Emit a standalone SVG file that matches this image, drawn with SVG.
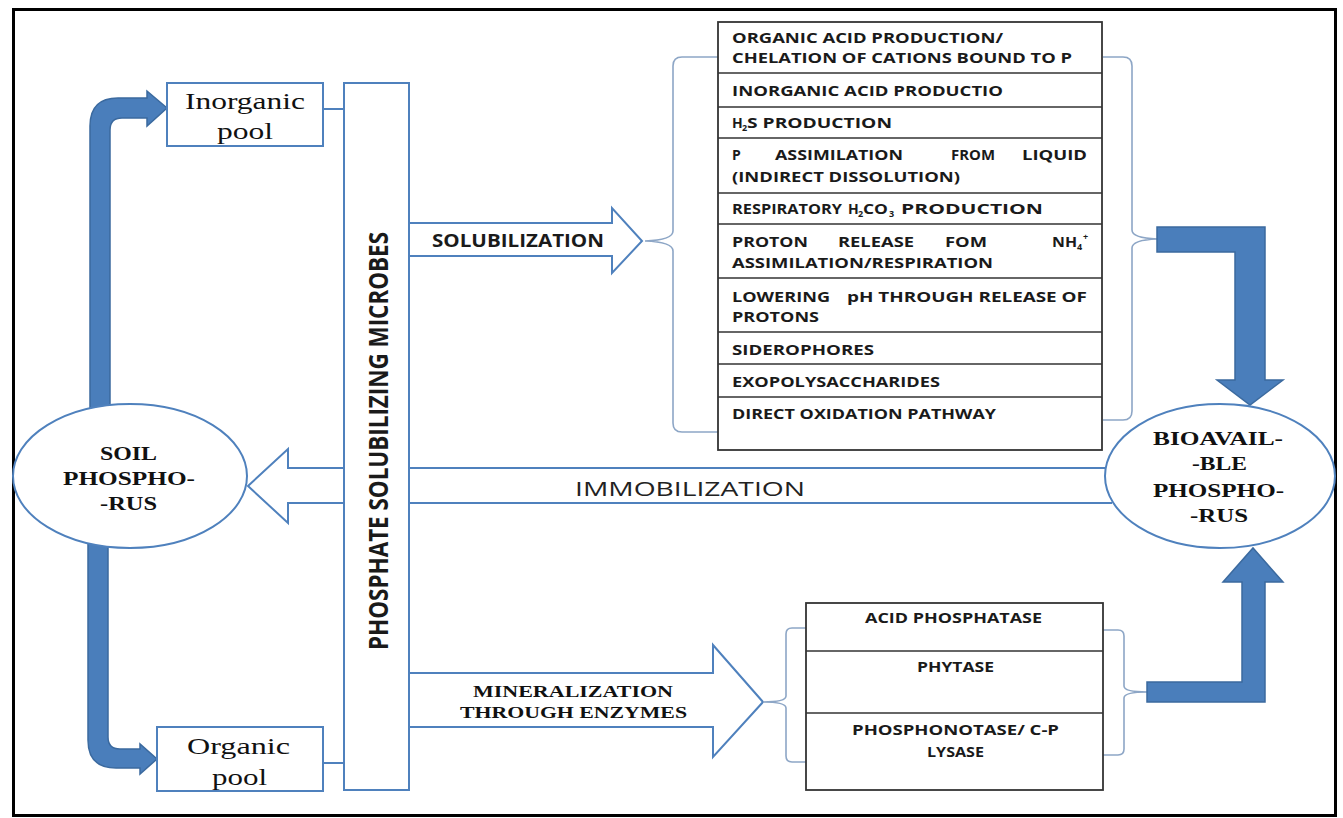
<svg xmlns="http://www.w3.org/2000/svg" width="1343" height="818" viewBox="0 0 1343 818">
<style>
.ol{fill:#fff;stroke:#4F81BD;stroke-width:2}
.thick{fill:#4A7EBB;stroke:#3B6A9F;stroke-width:1.5}
.brace{fill:none;stroke:#8DA6C6;stroke-width:1.6}
.tbl{fill:#fff;stroke:#333;stroke-width:1.8}
.rule{stroke:#333;stroke-width:1.6}
.serif{font-family:"Liberation Serif","Times New Roman",serif;fill:#111}
.sb{font-family:"Open Sans","Liberation Sans",Arial,sans-serif;font-weight:700;fill:#1a1a1a}
.tt{font-family:"Open Sans","Liberation Sans",Arial,sans-serif;font-weight:700;font-size:14px;fill:#1a1a1a}
.sub{font-family:"Open Sans","Liberation Sans",Arial,sans-serif;font-weight:700;font-size:9px;fill:#1a1a1a}
</style>
<rect x="0" y="0" width="1343" height="818" fill="#fff"/>
<rect x="13.5" y="9.5" width="1322" height="806" fill="none" stroke="#000" stroke-width="3"/>

<g id="connectors">
  <path class="thick" d="M90,420 L90,126 Q90,98 118,98 L147,98 L147,91 L167,108 L147,126 L147,118 L122,118 Q110,118 110,130 L110,420 Z"/>
  <path class="thick" d="M88,535 L88,740 Q88,768 116,768 L140,768 L140,774 L157,759 L140,744 L140,749 L120,749 Q108,749 108,737 L108,535 Z"/>
  <path class="ol" d="M1112,468 L288,468 L288,449 L248,486 L288,523 L288,503 L1112,503"/>
  <path class="ol" d="M409,223 L612,223 L612,208 L642,241 L612,273 L612,256 L409,256"/>
  <path class="ol" d="M409,673 L713,673 L713,645 L763,702 L713,757 L713,727 L409,727"/>
  <line x1="323" y1="109" x2="344" y2="109" stroke="#4F81BD" stroke-width="2"/>
  <line x1="323" y1="763" x2="344" y2="763" stroke="#4F81BD" stroke-width="2"/>
  <path class="brace" d="M718,57 L682,57 Q673,57 673,66 L673,231 Q673,240 645,241 Q673,242 673,251 L673,423 Q673,432 682,432 L718,432"/>
  <path class="brace" d="M1103,57 L1123,57 Q1132,57 1132,66 L1132,230 Q1132,238 1157,239 Q1132,240 1132,248 L1132,411 Q1132,420 1123,420 L1103,420"/>
  <path class="brace" d="M806,628 L792,628 Q786,628 786,634 L786,696 Q786,702 763,702 Q786,702 786,708 L786,756 Q786,762 792,762 L806,762"/>
  <path class="brace" d="M1103,630 L1118,630 Q1124,630 1124,636 L1124,686 Q1124,692 1147,692 Q1124,692 1124,698 L1124,749 Q1124,755 1118,755 L1103,755"/>
  <path class="thick" d="M1157,227 L1265,227 L1265,380 L1283,380 L1250,405 L1217,380 L1235,380 L1235,252 L1157,252 Z"/>
  <path class="thick" d="M1147,702 L1265,702 L1265,582 L1283,582 L1253,548 L1223,582 L1242,582 L1242,682 L1147,682 Z"/>
  <text class="sb" x="432" y="247" font-size="17" textLength="172" lengthAdjust="spacingAndGlyphs">SOLUBILIZATION</text>
  <text x="575" y="496" font-family="'Open Sans','Liberation Sans',Arial,sans-serif" font-size="20" fill="#222" textLength="230" lengthAdjust="spacingAndGlyphs">IMMOBILIZATION</text>
  <text class="serif" x="473" y="697" font-size="16" font-weight="700" textLength="200" lengthAdjust="spacingAndGlyphs">MINERALIZATION</text>
  <text class="serif" x="460" y="718" font-size="16" font-weight="700" textLength="227" lengthAdjust="spacingAndGlyphs">THROUGH ENZYMES</text>
</g>

<g id="psm">
  <rect class="ol" x="344" y="83" width="65" height="707"/>
  <text class="sb" transform="translate(388,441) rotate(-90) scale(1,1.3)" x="-209" y="0" font-size="21" textLength="418" lengthAdjust="spacingAndGlyphs">PHOSPHATE  SOLUBILIZING MICROBES</text>
</g>

<g id="inorganic-pool">
  <rect class="ol" x="167" y="83" width="156" height="63"/>
  <text class="serif" x="185" y="109" font-size="24" textLength="120" lengthAdjust="spacingAndGlyphs">Inorganic</text>
  <text class="serif" x="217" y="139" font-size="24" textLength="56" lengthAdjust="spacingAndGlyphs">pool</text>
</g>

<g id="organic-pool">
  <rect class="ol" x="157" y="727" width="166" height="64"/>
  <text class="serif" x="187" y="754" font-size="24" textLength="103" lengthAdjust="spacingAndGlyphs">Organic</text>
  <text class="serif" x="212" y="785" font-size="24" textLength="55" lengthAdjust="spacingAndGlyphs">pool</text>
</g>

<g id="soil-phosphorus">
  <ellipse class="ol" cx="130" cy="476" rx="117" ry="72"/>
  <text class="serif" x="100" y="460" font-size="18" font-weight="700" textLength="57" lengthAdjust="spacingAndGlyphs">SOIL</text>
  <text class="serif" x="63" y="485" font-size="18" font-weight="700" textLength="132" lengthAdjust="spacingAndGlyphs">PHOSPHO-</text>
  <text class="serif" x="100" y="510" font-size="18" font-weight="700" textLength="57" lengthAdjust="spacingAndGlyphs">-RUS</text>
</g>

<g id="bioavailable-phosphorus">
  <ellipse class="ol" cx="1220" cy="476" rx="115" ry="72"/>
  <text class="serif" x="1153" y="445" font-size="18" font-weight="700" textLength="130" lengthAdjust="spacingAndGlyphs">BIOAVAIL-</text>
  <text class="serif" x="1192" y="470" font-size="18" font-weight="700" textLength="55" lengthAdjust="spacingAndGlyphs">-BLE</text>
  <text class="serif" x="1153" y="497" font-size="18" font-weight="700" textLength="131" lengthAdjust="spacingAndGlyphs">PHOSPHO-</text>
  <text class="serif" x="1190" y="522" font-size="18" font-weight="700" textLength="58" lengthAdjust="spacingAndGlyphs">-RUS</text>
</g>

<g id="solubilization-mechanisms">
  <rect class="tbl" x="718" y="22" width="384" height="428"/>
  <line class="rule" x1="718" y1="73" x2="1102" y2="73"/>
  <line class="rule" x1="718" y1="107" x2="1102" y2="107"/>
  <line class="rule" x1="718" y1="138" x2="1102" y2="138"/>
  <line class="rule" x1="718" y1="193" x2="1102" y2="193"/>
  <line class="rule" x1="718" y1="224" x2="1102" y2="224"/>
  <line class="rule" x1="718" y1="278" x2="1102" y2="278"/>
  <line class="rule" x1="718" y1="332" x2="1102" y2="332"/>
  <line class="rule" x1="718" y1="364" x2="1102" y2="364"/>
  <line class="rule" x1="718" y1="397" x2="1102" y2="397"/>
  <text class="tt" x="732" y="43" textLength="271" lengthAdjust="spacingAndGlyphs">ORGANIC ACID PRODUCTION/</text>
  <text class="tt" x="732" y="63" textLength="340" lengthAdjust="spacingAndGlyphs">CHELATION OF CATIONS BOUND TO P</text>
  <text class="tt" x="732" y="96" textLength="271" lengthAdjust="spacingAndGlyphs">INORGANIC ACID PRODUCTIO</text>
  <text class="tt" x="732" y="128">H</text><text class="sub" x="742" y="131">2</text>
  <text class="tt" x="747" y="128" textLength="145" lengthAdjust="spacingAndGlyphs">S PRODUCTION</text>
  <text class="tt" x="732" y="160">P</text>
  <text class="tt" x="775" y="160" textLength="128" lengthAdjust="spacingAndGlyphs">ASSIMILATION</text>
  <text class="tt" x="951" y="160" textLength="44" lengthAdjust="spacingAndGlyphs">FROM</text>
  <text class="tt" x="1022" y="160" textLength="65" lengthAdjust="spacingAndGlyphs">LIQUID</text>
  <text class="tt" x="732" y="182" textLength="228" lengthAdjust="spacingAndGlyphs">(INDIRECT DISSOLUTION)</text>
  <text class="tt" x="732" y="214" textLength="110" lengthAdjust="spacingAndGlyphs">RESPIRATORY</text>
  <text class="tt" x="848" y="214">H</text><text class="sub" x="858" y="217">2</text>
  <text class="tt" x="863" y="214" textLength="25" lengthAdjust="spacingAndGlyphs">CO</text><text class="sub" x="889" y="217">3</text>
  <text class="tt" x="901" y="214" textLength="142" lengthAdjust="spacingAndGlyphs">PRODUCTION</text>
  <text class="tt" x="732" y="247" textLength="76" lengthAdjust="spacingAndGlyphs">PROTON</text>
  <text class="tt" x="838" y="247" textLength="76" lengthAdjust="spacingAndGlyphs">RELEASE</text>
  <text class="tt" x="945" y="247" textLength="42" lengthAdjust="spacingAndGlyphs">FOM</text>
  <text class="tt" x="1052" y="247" textLength="25" lengthAdjust="spacingAndGlyphs">NH</text>
  <text class="sub" x="1077" y="250">4</text><text class="sub" x="1083" y="240">+</text>
  <text class="tt" x="732" y="268" textLength="261" lengthAdjust="spacingAndGlyphs">ASSIMILATION/RESPIRATION</text>
  <text class="tt" x="732" y="302" textLength="98" lengthAdjust="spacingAndGlyphs">LOWERING</text>
  <text class="tt" x="847" y="302" textLength="240" lengthAdjust="spacingAndGlyphs">pH THROUGH RELEASE OF</text>
  <text class="tt" x="732" y="322" textLength="87" lengthAdjust="spacingAndGlyphs">PROTONS</text>
  <text class="tt" x="732" y="355" textLength="142" lengthAdjust="spacingAndGlyphs">SIDEROPHORES</text>
  <text class="tt" x="732" y="387" textLength="208" lengthAdjust="spacingAndGlyphs">EXOPOLYSACCHARIDES</text>
  <text class="tt" x="732" y="419" textLength="264" lengthAdjust="spacingAndGlyphs">DIRECT OXIDATION PATHWAY</text>
</g>

<g id="enzymes">
  <rect class="tbl" x="806" y="603" width="297" height="187" stroke="#222"/>
  <line class="rule" x1="806" y1="651" x2="1103" y2="651"/>
  <line class="rule" x1="806" y1="713" x2="1103" y2="713"/>
  <text class="tt" x="865" y="623" textLength="177" lengthAdjust="spacingAndGlyphs">ACID PHOSPHATASE</text>
  <text class="tt" x="917" y="672" textLength="77" lengthAdjust="spacingAndGlyphs">PHYTASE</text>
  <text class="tt" x="852" y="735" textLength="207" lengthAdjust="spacingAndGlyphs">PHOSPHONOTASE/ C-P</text>
  <text class="tt" x="927" y="757" textLength="57" lengthAdjust="spacingAndGlyphs">LYSASE</text>
</g>
</svg>
